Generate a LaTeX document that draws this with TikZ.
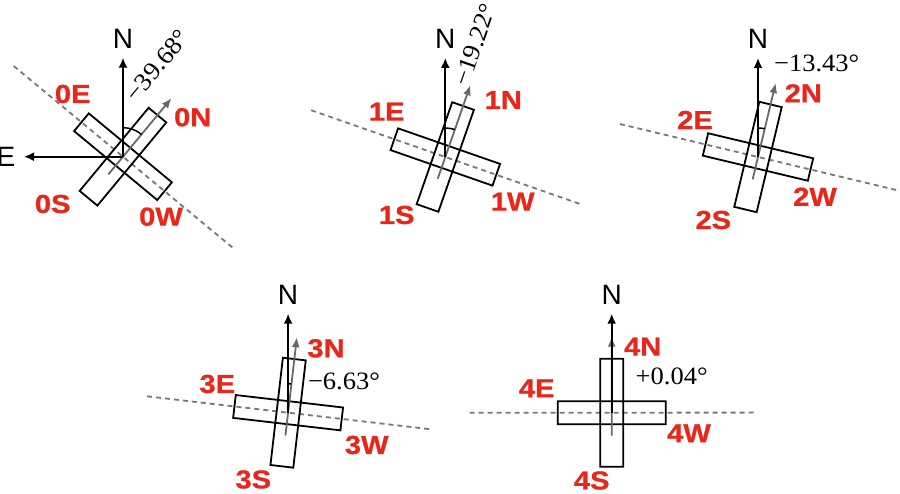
\documentclass[tikz,border=0pt]{standalone}
\usepackage{fontspec}
\setmainfont{Liberation Serif}
\newfontfamily\labfont{Liberation Sans}
\newfontfamily\redfont[FakeStretch=1.12,FakeBold=0.8]{Liberation Sans Bold}
\newfontfamily\angfont[FakeStretch=1.06]{Liberation Serif}
\usetikzlibrary{arrows.meta,calc}
\definecolor{lred}{RGB}{232,38,25}
\definecolor{garrow}{RGB}{105,105,105}
\definecolor{gdash}{RGB}{120,120,120}
\tikzset{
  dashline/.style={gdash,line width=1.8pt,dash pattern=on 5pt off 4pt},
  barbox/.style={black,line width=1.8pt,line join=miter},
  grayarrow/.style={garrow,line width=1.8pt,-{Latex[length=10pt,width=8pt]}},
  northarrow/.style={black,line width=1.8pt,-{Latex[length=10pt,width=9pt]}},
  anglearc/.style={black,line width=1.5pt},
  redlab/.style={text=lred,font=\redfont\fontsize{26}{28}\selectfont,inner sep=0pt},
  dirlab/.style={font=\labfont\fontsize{28}{30}\selectfont,inner sep=0pt},
  anglab/.style={font=\angfont\fontsize{25}{27}\selectfont,inner sep=0pt},
}
\newcommand\mypanel[3]{%
  \coordinate (#1o) at #2;
  \begin{scope}[shift={#2},rotate=-#3]
    \coordinate (#1dl) at (-142,0);
    \coordinate (#1dr) at (142,0);
    \coordinate (#1gs) at (0,-23);
    \coordinate (#1gt) at (0,76);
    \coordinate (#1a1) at (-11.5,-54);
    \coordinate (#1a2) at (11.5,-54);
    \coordinate (#1a3) at (11.5,54);
    \coordinate (#1a4) at (-11.5,54);
    \coordinate (#1b1) at (-54,-11.5);
    \coordinate (#1b2) at (54,-11.5);
    \coordinate (#1b3) at (54,11.5);
    \coordinate (#1b4) at (-54,11.5);
  \end{scope}
  \coordinate (#1nt) at ($(#1o)+(0,99)$);
  \coordinate (#1arc) at ($(#1o)+(0,29)$);
  \draw[dashline] (#1dl) -- (#1dr);
  \draw[barbox] (#1a1) -- (#1a2) -- (#1a3) -- (#1a4) -- cycle;
  \draw[barbox] (#1b1) -- (#1b2) -- (#1b3) -- (#1b4) -- cycle;
  \draw[grayarrow] (#1gs) -- (#1gt);
  \draw[northarrow] (#1o) -- (#1nt);
  \draw[anglearc] (#1arc) arc[start angle=90,end angle={90-#3},radius=29pt];
  \node[dirlab] (#1N) at ($(#1o)+(0,118)$) {N};
}
\begin{document}
\begin{tikzpicture}[x=1pt,y=1pt]
\useasboundingbox (0,0) rectangle (900,494);
\fill[white] (0,0) rectangle (900,494);
% panel 0
\mypanel{p0}{(123,337.3)}{39.68}
\coordinate (p0et) at ($(p0o)+(-99,0)$);
\draw[northarrow] (p0o) -- (p0et);
\node[dirlab] (p0E) at (6,337.5) {E};
\node[anglab,rotate=50.32] (p0ang) at (157.3,428.3) {−39.68°};
\node[redlab] (l0E) at (72.7,400) {0E};
\node[redlab] (l0N) at (192.7,376.7) {0N};
\node[redlab] (l0S) at (52.7,290) {0S};
\node[redlab] (l0W) at (161,277.3) {0W};
% panel 1
\mypanel{p1}{(445.3,337)}{19.22}
\node[anglab,rotate=70.78] (p1ang) at (475,449) {−19.22°};
\node[redlab] (l1E) at (386.7,382.3) {1E};
\node[redlab] (l1N) at (503.3,394) {1N};
\node[redlab] (l1S) at (396.7,279) {1S};
\node[redlab] (l1W) at (512.7,292.3) {1W};
% panel 2
\mypanel{p2}{(758,337)}{13.43}
\node[anglab] (p2ang) at (816.7,430.7) {−13.43°};
\node[redlab] (l2E) at (695,374) {2E};
\node[redlab] (l2N) at (803.3,400.7) {2N};
\node[redlab] (l2S) at (713.3,274) {2S};
\node[redlab] (l2W) at (815,297.3) {2W};
% panel 3
\mypanel{p3}{(288.1,81.3)}{6.63}
\node[anglab] (p3ang) at (344,112.3) {−6.63°};
\node[redlab] (l3E) at (217.3,110) {3E};
\node[redlab] (l3N) at (326,145.7) {3N};
\node[redlab] (l3S) at (253.3,14.5) {3S};
\node[redlab] (l3W) at (366.7,49) {3W};
% panel 4
\mypanel{p4}{(611.7,81.3)}{-0.04}
\node[anglab] (p4ang) at (671.7,117.3) {+0.04°};
\node[redlab] (l4E) at (536.7,105.7) {4E};
\node[redlab] (l4N) at (642.7,147.3) {4N};
\node[redlab] (l4S) at (591.7,13.5) {4S};
\node[redlab] (l4W) at (689,60.7) {4W};
\end{tikzpicture}
\end{document}
